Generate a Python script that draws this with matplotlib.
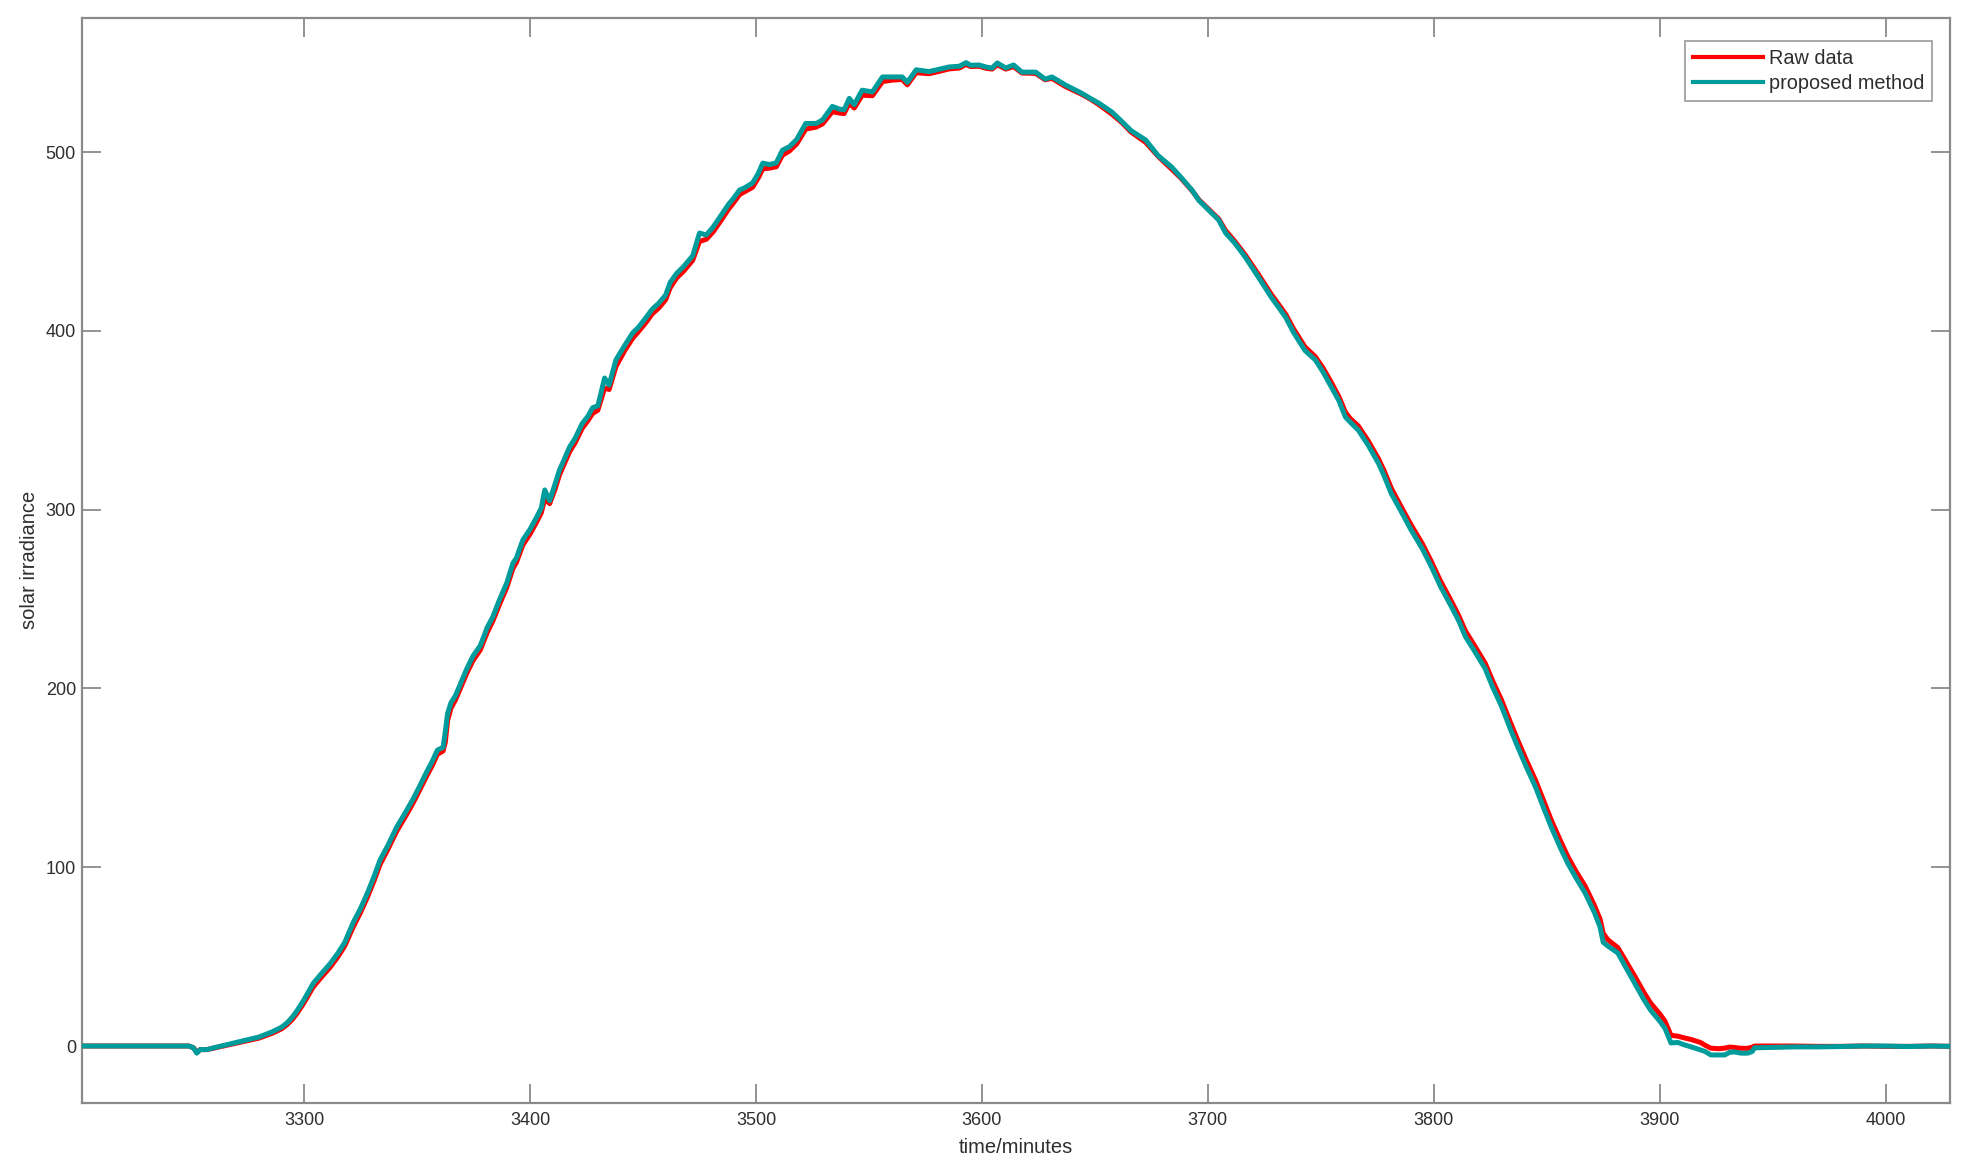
import matplotlib
matplotlib.use("Agg")
import matplotlib.pyplot as plt
from matplotlib import font_manager

# ---------------- data ----------------
time_min = [
    3201, 3210, 3220, 3230, 3240, 3249, 3251, 3252.5, 3254, 3257,
    3260, 3265, 3270, 3275, 3280, 3286, 3290, 3292.5, 3295, 3297,
    3300, 3304, 3308, 3311.5, 3315, 3318, 3321.7, 3325, 3328, 3331,
    3333.6, 3337, 3341, 3345, 3348, 3351, 3354, 3357, 3359, 3361.5,
    3362.5, 3363.5, 3365, 3367, 3370, 3372, 3374.7, 3378, 3381, 3383.5,
    3386.6, 3389.7, 3392.4, 3394, 3396.8, 3400, 3403, 3405, 3406.5, 3408.7,
    3411, 3413, 3417.5, 3420, 3423, 3425.5, 3427.7, 3430, 3433, 3435,
    3438, 3442, 3445.4, 3448, 3451.5, 3454, 3457, 3460, 3462, 3464.8,
    3468, 3472, 3475, 3478, 3481, 3484, 3488, 3490, 3492.7, 3495,
    3498.5, 3501, 3503, 3506, 3509, 3511.7, 3514.8, 3518, 3522, 3526.7,
    3529.5, 3533.8, 3537, 3539, 3541.3, 3543.5, 3547, 3551.5, 3556, 3560,
    3564.7, 3567, 3570.9, 3576.6, 3580, 3585.5, 3590, 3593, 3595, 3598.7,
    3602, 3604.5, 3606.8, 3610.6, 3614, 3617.7, 3623.8, 3628, 3631, 3637,
    3644, 3648, 3651.7, 3657.5, 3662, 3666, 3672.5, 3678, 3684, 3688,
    3693, 3696, 3700, 3704.8, 3707.9, 3712, 3716.7, 3722.4, 3728, 3734.4,
    3738, 3743, 3747.6, 3751, 3754.7, 3758, 3760.9, 3763, 3766.6, 3771,
    3775.5, 3778, 3781.2, 3786, 3790, 3795, 3799, 3803, 3807.7, 3811,
    3814, 3818, 3822.8, 3826, 3830, 3834, 3837.3, 3841, 3845, 3849,
    3852, 3856, 3859.4, 3863, 3867, 3871, 3873.6, 3875, 3877, 3881.5,
    3885, 3889, 3893, 3896, 3900, 3902.3, 3905, 3908, 3911, 3914,
    3918, 3920, 3922.6, 3926, 3928.8, 3931, 3933, 3936, 3939, 3941,
    3942, 3950, 3960, 3970, 3980, 3990, 4000, 4010, 4020, 4029,
]

proposed = [
    0, 0, 0, 0, 0, 0, -1, -4, -2, -2,
    -1, 0.5, 2, 3.5, 5, 8, 10.5, 13, 16.5, 20,
    26, 35, 41, 46, 52, 58, 69, 77, 85.5, 95,
    104, 112, 122.5, 131, 137.6, 145, 152.7, 160, 165.5, 167,
    176, 186, 192, 196, 205, 211, 218, 224, 234, 240,
    250, 259, 270, 273, 283, 289, 296, 301, 311, 305,
    314, 322, 335, 340, 348, 352, 357, 358, 373.6, 369.7,
    383.7, 392, 398.8, 402, 407.7, 412, 415.5, 420, 427, 432,
    436, 442, 454.7, 453.6, 458, 463.6, 471, 474, 478.7, 480,
    482.7, 488, 493.8, 493, 494, 501, 503, 507, 516, 516,
    518, 525.5, 524, 523.6, 530, 526.5, 534.6, 533.6, 542, 542,
    542, 539, 546, 545, 546, 547.6, 548, 550, 548.5, 548.7,
    547.5, 547, 549.8, 547, 548.7, 544.7, 544.7, 540.8, 542, 537.5,
    533, 530, 527.4, 522.4, 517, 512, 506.7, 498, 491.6, 486,
    478.7, 473, 468, 462, 454.7, 449, 441, 430, 419, 407.7,
    399, 389, 383.7, 377, 368.6, 361, 351.8, 349, 344.5, 336,
    326, 319, 309, 298, 288.6, 278, 268, 257, 246, 238,
    229, 221, 211, 201, 190, 177, 167, 156, 145, 132,
    122.5, 111, 102, 94, 85.6, 75, 66.6, 58, 56, 52,
    44, 35, 26, 20, 14, 10, 1.7, 2, 0.6, -0.5,
    -2.2, -3, -5, -5, -5, -3.5, -3.3, -4, -4, -3,
    -1, -0.8, -0.5, -0.5, -0.3, 0, 0, -0.3, 0, -0.2,
]

raw = [
    0, 0, 0, 0, 0, 0, -1, -3.5, -2, -2,
    -1.2, 0.2, 1.6, 3, 4.4, 7.2, 9.6, 12, 15.2, 18.5,
    24.3, 33, 39, 44, 50, 56, 66.5, 74.8, 83.2, 92.6,
    101.5, 109.8, 120.2, 128.7, 135.4, 142.8, 150.4, 157.6, 163.2, 165,
    170, 182, 189, 193.6, 202.6, 208.5, 215.5, 221.6, 231.2, 237.6,
    247.4, 256.5, 267, 270.6, 280.2, 286.4, 293.3, 298.4, 306, 303.4,
    311.2, 319.4, 332.4, 337.5, 345.3, 349.6, 353.8, 355.6, 368, 367.2,
    380, 389.2, 395.8, 399.6, 405, 409.4, 412.8, 417.4, 424, 429.5,
    433.4, 439.5, 450, 451.2, 455.3, 460.8, 468.3, 471.5, 476.2, 477.8,
    480.3, 485.5, 490.6, 491, 491.8, 498.2, 500.6, 504.5, 512.8, 514,
    515.8, 522.6, 521.8, 521.5, 527.4, 524.6, 531.8, 531.5, 539.4, 540.2,
    540.6, 537.6, 544.4, 543.8, 544.8, 546.5, 547, 549, 547.8, 548,
    546.8, 546.4, 548.8, 546.4, 547.8, 544.2, 544, 540.4, 541.2, 536.6,
    532.4, 529.6, 526.6, 521.2, 516.4, 511.2, 505.4, 497.6, 490.4, 485.5,
    478.4, 473.4, 468.5, 462.6, 456, 450, 442.2, 431.5, 420.6, 409.4,
    401, 391, 385.5, 379.2, 371, 363.2, 354.5, 351, 346.8, 338.4,
    328.5, 321.8, 312, 300.6, 291.4, 280.8, 270.8, 260, 249, 240.8,
    232.2, 224, 214, 204.4, 193.5, 180.8, 170.6, 159.8, 148.8, 136,
    126.4, 115, 105.8, 97.6, 89.4, 79, 71, 63, 59.5, 55,
    47.5, 39, 30, 24, 18, 14, 6, 5.5, 4.5, 3.6,
    2, 0.5, -1.2, -1.5, -1.2, -0.6, -0.8, -1.3, -1.3, -0.6,
    0, 0, 0, -0.2, -0.2, 0, -0.2, -0.2, 0, -0.2,
]

x_ticks = [3300, 3400, 3500, 3600, 3700, 3800, 3900, 4000]
y_ticks = [0, 100, 200, 300, 400, 500]
series_labels = ["Raw data", "proposed method"]
x_label = "time/minutes"
y_label = "solar irradiance"

# ---------------- style ----------------
available = {f.name for f in font_manager.fontManager.ttflist}
if "Liberation Sans Narrow" in available:
    FONT = "Liberation Sans Narrow"
    FS_TICK, FS_LAB, FS_LEG = 15, 16.5, 16.5
else:
    FONT = "Liberation Sans"
    FS_TICK, FS_LAB, FS_LEG = 13, 14.5, 14.3
plt.rcParams["font.family"] = [FONT, "DejaVu Sans"]

AX_GRAY = "#8a8a8a"
TXT = "#2e2e2e"
RED = "#ff0000"
TEAL = "#009b9b"

fig = plt.figure(figsize=(19.69, 11.74), dpi=100)
ax = fig.add_axes([0.04144, 0.06090, 0.94891, 0.92411])

ax.plot(time_min, raw, color=RED, lw=3.6, solid_joinstyle="round",
        label=series_labels[0], zorder=2)
ax.plot(time_min, proposed, color=TEAL, lw=3.6, solid_joinstyle="round",
        label=series_labels[1], zorder=3)

ax.set_xlim(3201.5, 4028.5)
ax.set_ylim(-31.6, 575.2)
ax.set_xticks(x_ticks)
ax.set_yticks(y_ticks)

for sp in ax.spines.values():
    sp.set_color(AX_GRAY)
    sp.set_linewidth(1.6)

ax.tick_params(axis="both", which="major", direction="in", length=14,
               width=1.3, color=AX_GRAY, labelcolor=TXT, labelsize=FS_TICK,
               top=True, right=True)
ax.tick_params(axis="x", pad=7)
ax.tick_params(axis="y", pad=4)

ax.set_xlabel(x_label, fontsize=FS_LAB, color=TXT, labelpad=6)
ax.set_ylabel(y_label, fontsize=FS_LAB, color=TXT, labelpad=5)

leg = ax.legend(loc="upper right", bbox_to_anchor=(0.9812, 0.9651),
                bbox_transform=fig.transFigure, borderaxespad=0,
                fontsize=FS_LEG, frameon=True, fancybox=False,
                handlelength=3.5, handletextpad=0.3, borderpad=0.4,
                labelspacing=0.3)
leg.get_frame().set_edgecolor(AX_GRAY)
leg.get_frame().set_linewidth(1.3)
for h in leg.get_lines():
    h.set_linewidth(3.0)
for t in leg.get_texts():
    t.set_color(TXT)

fig.savefig("out.png", dpi=100, facecolor="white")
